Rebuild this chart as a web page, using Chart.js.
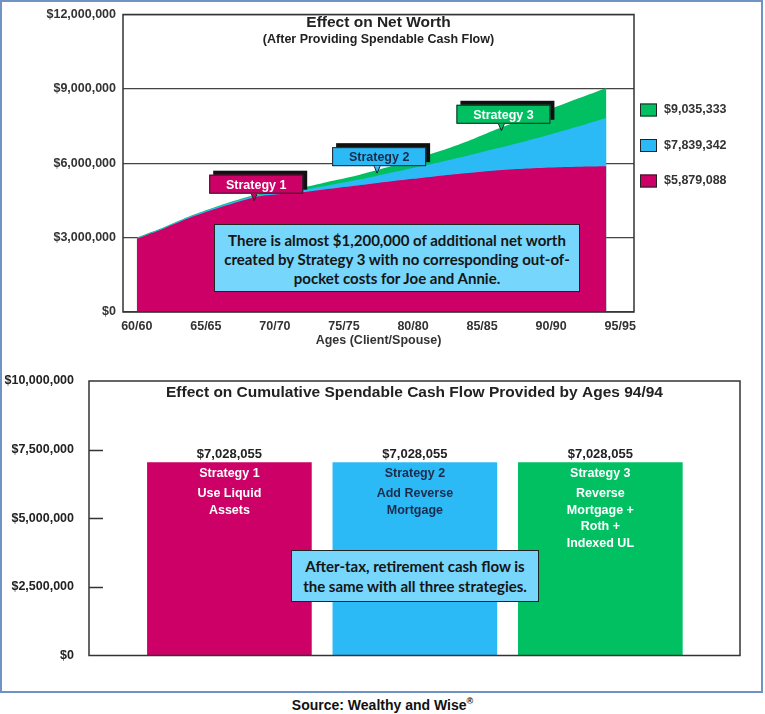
<!DOCTYPE html>
<html>
<head>
<meta charset="utf-8">
<script src="https://cdn.jsdelivr.net/npm/chart.js@4.4.1/dist/chart.umd.min.js"></script>
<style>
  body { margin: 0; background: #fff; font-family: "Liberation Sans", Arial, sans-serif; }
  #frame { position: absolute; left: 0; top: 0; width: 759px; height: 689px; border: 2px solid #6f93c4; }
  #netWorth { position: absolute; left: 0; top: 0; }
  #cashFlow { position: absolute; left: 0; top: 360px; }
  .note { position: absolute; box-sizing: border-box; background: #76d6fb; border: 1.5px solid #222;
          font-family: Lato, "Open Sans", sans-serif; font-weight: bold; color: #151515; text-align: center; }
  #note1 { left: 214px; top: 224px; width: 366px; height: 68px; font-size: 15px; line-height: 19px; padding-top: 6px; }
  #note2 { left: 291px; top: 550px; width: 248px; height: 52px; font-size: 15px; line-height: 20px; padding-top: 5px; }
  #source { position: absolute; left: 0; top: 696px; width: 765px; text-align: center; font: bold 14px "Liberation Sans", Arial, sans-serif; color: #111; }
  #source sup { font-size: 9px; }
</style>
</head>
<body>
<div id="frame"></div>
<canvas id="netWorth" width="765" height="350"></canvas>
<canvas id="cashFlow" width="765" height="310"></canvas>
<div class="note" id="note1">There is almost $1,200,000 of additional net worth<br>created by Strategy 3 with no corresponding out-of-<br>pocket costs for Joe and Annie.</div>
<div class="note" id="note2">After-tax, retirement cash flow is<br>the same with all three strategies.</div>
<div id="source">Source: Wealthy and Wise<sup>®</sup></div>

<script>
// ---- data ----
const ages = [60, 62, 64, 66, 68, 69, 70, 72, 74, 76, 78, 80, 82, 84, 86, 88, 90, 92, 94];
const strategy1 = [2950000, 3380000, 3840000, 4220000, 4550000, 4680000, 4740000, 4830000, 4970000, 5100000,
                   5240000, 5370000, 5500000, 5610000, 5710000, 5780000, 5830000, 5860000, 5879088];
const strategy2 = [2970000, 3410000, 3880000, 4270000, 4610000, 4730000, 4800000, 4920000, 5120000, 5330000,
                   5570000, 5810000, 6050000, 6310000, 6590000, 6870000, 7170000, 7490000, 7839342];
const strategy3 = [3000000, 3430000, 3900000, 4300000, 4640000, 4770000, 4860000, 5010000, 5270000, 5520000,
                   5820000, 6140000, 6500000, 6900000, 7360000, 7800000, 8200000, 8620000, 9035333];
const ageTicks = [60, 65, 70, 75, 80, 85, 90, 95];

const calloutLabels = ["Strategy 1", "Strategy 2", "Strategy 3"];
const calloutAges = [68.5, 77.4, 86.4];
const calloutValues = [4490000, 5600000, 7310000];

const strategies = ["Strategy 1", "Strategy 2", "Strategy 3"];
const cashFlow = [7028055, 7028055, 7028055];
const descriptions = [["Use Liquid", "Assets"], ["Add Reverse", "Mortgage"], ["Reverse", "Mortgage +", "Roth +", "Indexed UL"]];

const MAGENTA = "#cc0066", BLUE = "#2cbaf7", GREEN = "#00c062";
const FONT = '"Liberation Sans", Arial, sans-serif';
Chart.defaults.font.family = FONT;
Chart.defaults.animation = false;

const money = v => "$" + Number(v).toLocaleString("en-US");
const toXY = arr => arr.map((v, i) => ({ x: ages[i], y: v }));

// ---- top chart: Effect on Net Worth ----
const netWorthDecor = {
  id: "netWorthDecor",
  afterDraw(chart) {
    const { ctx, chartArea: a, scales: { x, y } } = chart;
    ctx.save();
    ctx.strokeStyle = "#333";
    ctx.lineWidth = 1.5;
    ctx.strokeRect(a.left, a.top, a.right - a.left, a.bottom - a.top);

    const cx = (a.left + a.right) / 2;
    ctx.fillStyle = "#222";
    ctx.textAlign = "center";
    ctx.textBaseline = "middle";
    ctx.font = "bold 15.5px " + FONT;
    ctx.fillText("Effect on Net Worth", cx, 23);
    ctx.font = "bold 12.5px " + FONT;
    ctx.fillText("(After Providing Spendable Cash Flow)", cx, 40);

    // strategy callouts
    const fills = [MAGENTA, BLUE, GREEN];
    const inks = ["#fff", "#1d2b4a", "#fff"];
    calloutLabels.forEach((label, i) => {
      const tx = x.getPixelForValue(calloutAges[i]);
      const ty = y.getPixelForValue(calloutValues[i]);
      const w = 94, h = 19;
      const bx = tx + 2 - w / 2, by = ty - 7 - h;
      ctx.fillStyle = "#111";
      ctx.fillRect(bx + 4, by - 4, w, h);
      ctx.fillStyle = fills[i];
      ctx.fillRect(bx, by, w, h);
      ctx.lineWidth = 1;
      ctx.strokeStyle = "#222";
      ctx.strokeRect(bx + 0.5, by + 0.5, w - 1, h - 1);
      ctx.beginPath();
      ctx.moveTo(tx - 3, by + h);
      ctx.lineTo(tx, ty);
      ctx.lineTo(tx + 3, by + h);
      ctx.fillStyle = fills[i];
      ctx.fill();
      ctx.stroke();
      ctx.fillStyle = inks[i];
      ctx.font = "bold 12.5px " + FONT;
      ctx.fillText(label, bx + w / 2, by + h / 2 + 1);
    });

    // legend with final values
    const series = chart.data.datasets.slice().reverse();
    series.forEach((ds, i) => {
      const yy = 110 + i * 35.5;
      const last = ds.data[ds.data.length - 1].y;
      ctx.fillStyle = ds.backgroundColor;
      ctx.fillRect(a.right + 6, yy - 6.5, 17, 13);
      ctx.strokeStyle = "#222";
      ctx.lineWidth = 1;
      ctx.strokeRect(a.right + 6.5, yy - 6, 16, 12);
      ctx.fillStyle = "#333";
      ctx.textAlign = "left";
      ctx.font = "bold 12.5px " + FONT;
      ctx.fillText(money(last), a.right + 30, yy);
    });
    ctx.restore();
  }
};

new Chart(document.getElementById("netWorth"), {
  type: "line",
  data: {
    datasets: [
      { label: "Strategy 1", data: toXY(strategy1), backgroundColor: MAGENTA, fill: "origin" },
      { label: "Strategy 2", data: toXY(strategy2), backgroundColor: BLUE, fill: "origin" },
      { label: "Strategy 3", data: toXY(strategy3), backgroundColor: GREEN, fill: "origin" }
    ]
  },
  options: {
    responsive: false,
    layout: { padding: { top: 10, right: 131, bottom: 0, left: 0 } },
    elements: { point: { radius: 0 }, line: { borderWidth: 0, tension: 0.25 } },
    plugins: { legend: { display: false }, tooltip: { enabled: false } },
    scales: {
      x: {
        type: "linear", min: 59, max: 96,
        afterBuildTicks: s => { s.ticks = ageTicks.map(v => ({ value: v })); },
        afterFit: s => { s.height = 38; },
        grid: { display: false, drawTicks: false },
        border: { display: false },
        ticks: { padding: 7, color: "#333", font: { size: 12.5, weight: "bold" }, callback: v => v + "/" + v },
        title: { display: true, text: "Ages (Client/Spouse)", color: "#333", font: { size: 12.5, weight: "bold" }, padding: { top: 0, bottom: 2 } }
      },
      y: {
        min: 0, max: 12000000,
        afterFit: s => { s.width = 123; },
        grid: { color: "#444", lineWidth: 1.2, drawTicks: false },
        border: { display: false },
        ticks: { stepSize: 3000000, padding: 7, color: "#333", font: { size: 12.5, weight: "bold" }, callback: money }
      }
    }
  },
  plugins: [netWorthDecor]
});

// ---- bottom chart: Cumulative Spendable Cash Flow ----
const cashFlowDecor = {
  id: "cashFlowDecor",
  afterDraw(chart) {
    const { ctx, chartArea: a, scales: { y } } = chart;
    ctx.save();
    ctx.strokeStyle = "#333";
    ctx.lineWidth = 1.5;
    ctx.strokeRect(a.left, a.top, a.right - a.left, a.bottom - a.top);
    y.ticks.forEach(t => {
      if (t.value <= 0 || t.value >= y.max) return;
      const py = Math.round(y.getPixelForValue(t.value)) + 0.5;
      ctx.beginPath();
      ctx.moveTo(a.left, py);
      ctx.lineTo(a.left + 14, py);
      ctx.stroke();
    });

    ctx.textAlign = "center";
    ctx.textBaseline = "middle";
    ctx.fillStyle = "#222";
    ctx.font = "bold 15.5px " + FONT;
    ctx.fillText("Effect on Cumulative Spendable Cash Flow Provided by Ages 94/94", (a.left + a.right) / 2, a.top + 12);

    const inks = ["#fff", "#1d2b4a", "#fff"];
    chart.getDatasetMeta(0).data.forEach((bar, i) => {
      ctx.fillStyle = "#222";
      ctx.font = "bold 13px " + FONT;
      ctx.fillText(money(cashFlow[i]), bar.x, bar.y - 8);
      ctx.fillStyle = inks[i];
      ctx.font = "bold 12.5px " + FONT;
      ctx.fillText(strategies[i], bar.x, bar.y + 11);
      descriptions[i].forEach((line, j) => ctx.fillText(line, bar.x, bar.y + 31 + j * 16.5));
    });
    ctx.restore();
  }
};

new Chart(document.getElementById("cashFlow"), {
  type: "bar",
  data: {
    datasets: [{
      label: "Cumulative Spendable Cash Flow",
      data: cashFlow.map((v, i) => ({ x: i + 1, y: v })),
      backgroundColor: [MAGENTA, BLUE, GREEN],
      borderWidth: 0,
      barThickness: 164
    }]
  },
  options: {
    responsive: false,
    layout: { padding: { top: 21, right: 25, bottom: 13, left: 0 } },
    plugins: { legend: { display: false }, tooltip: { enabled: false } },
    scales: {
      x: { type: "linear", min: 0.243, max: 3.753, offset: false, display: false },
      y: {
        min: 0, max: 10000000,
        afterFit: s => { s.width = 89; },
        grid: { display: false },
        border: { display: false },
        ticks: { stepSize: 2500000, padding: 7, color: "#222", font: { size: 12.5, weight: "bold" }, callback: money }
      }
    }
  },
  plugins: [cashFlowDecor]
});
</script>
</body>
</html>
